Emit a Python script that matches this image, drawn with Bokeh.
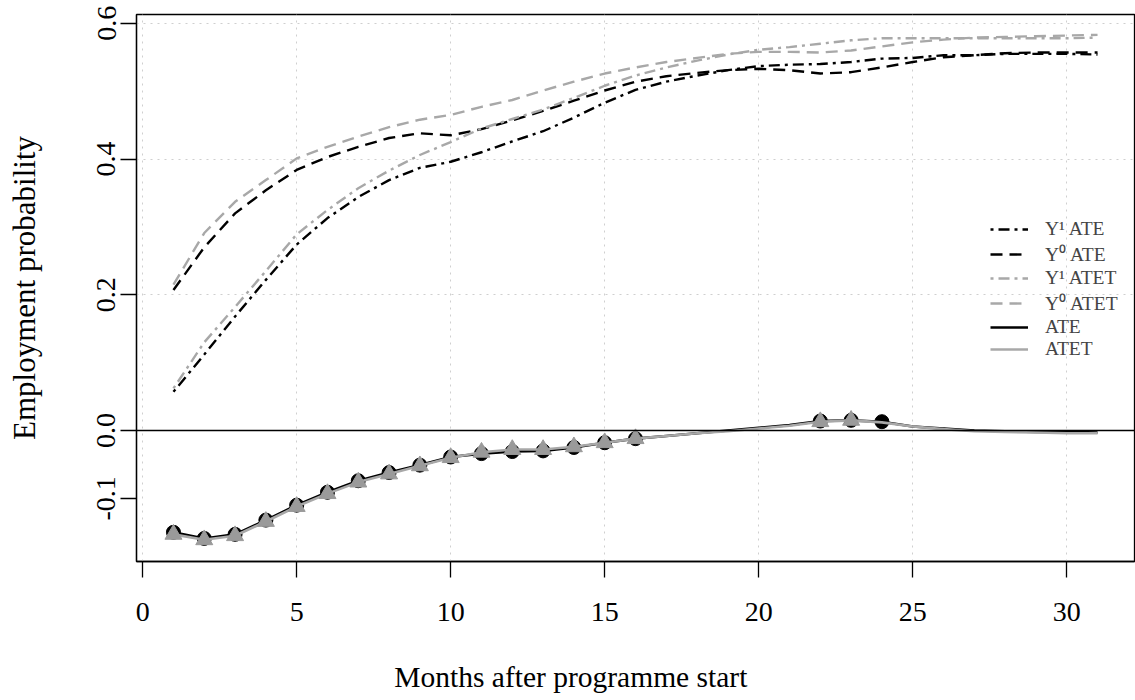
from bokeh.plotting import figure
from bokeh.models import Range1d, FixedTicker, Span, Legend, LegendItem, Label
from bokeh.embed import file_html
from bokeh.resources import INLINE

months = list(range(1, 32))

y1_ate = [0.057, 0.112, 0.168, 0.222, 0.274, 0.313, 0.344, 0.369, 0.387, 0.396,
          0.410, 0.426, 0.441, 0.461, 0.483, 0.502, 0.514, 0.523, 0.531, 0.537,
          0.539, 0.540, 0.543, 0.548, 0.549, 0.553, 0.553, 0.555, 0.555, 0.555, 0.554]
y0_ate = [0.207, 0.270, 0.320, 0.354, 0.384, 0.403, 0.418, 0.431, 0.438, 0.435,
          0.444, 0.457, 0.471, 0.486, 0.501, 0.514, 0.522, 0.527, 0.531, 0.533,
          0.531, 0.526, 0.528, 0.535, 0.543, 0.550, 0.553, 0.556, 0.557, 0.557, 0.557]
y1_atet = [0.062, 0.130, 0.182, 0.235, 0.289, 0.325, 0.357, 0.383, 0.406, 0.425,
           0.445, 0.459, 0.473, 0.490, 0.508, 0.523, 0.535, 0.545, 0.554, 0.561,
           0.565, 0.570, 0.575, 0.578, 0.578, 0.578, 0.578, 0.578, 0.578, 0.578, 0.579]
y0_atet = [0.215, 0.291, 0.337, 0.369, 0.401, 0.418, 0.433, 0.447, 0.458, 0.465,
           0.477, 0.487, 0.501, 0.514, 0.526, 0.535, 0.543, 0.549, 0.555, 0.558,
           0.558, 0.557, 0.560, 0.566, 0.572, 0.576, 0.579, 0.580, 0.581, 0.582, 0.583]
ate = [-0.150, -0.159, -0.153, -0.132, -0.110, -0.091, -0.074, -0.062, -0.051, -0.039,
       -0.034, -0.031, -0.030, -0.025, -0.018, -0.012, -0.008, -0.004, 0.000, 0.004,
       0.008, 0.014, 0.015, 0.013, 0.006, 0.003, 0.000, -0.001, -0.002, -0.002, -0.003]
atet = [-0.153, -0.161, -0.155, -0.134, -0.112, -0.093, -0.076, -0.064, -0.052, -0.040,
        -0.032, -0.028, -0.028, -0.024, -0.018, -0.012, -0.008, -0.004, -0.001, 0.003,
        0.007, 0.013, 0.015, 0.012, 0.006, 0.002, -0.001, -0.002, -0.003, -0.004, -0.004]
# 1 = marker shown (significant month)
ate_sig = [1, 1, 1, 1, 1, 1, 1, 1, 1, 1, 1, 1, 1, 1, 1, 1,
           0, 0, 0, 0, 0, 1, 1, 1, 0, 0, 0, 0, 0, 0, 0]
atet_sig = [1, 1, 1, 1, 1, 1, 1, 1, 1, 1, 1, 1, 1, 1, 1, 1,
            0, 0, 0, 0, 0, 1, 1, 0, 0, 0, 0, 0, 0, 0, 0]

x_ticks = [0, 5, 10, 15, 20, 25, 30]
y_ticks = [-0.1, 0.0, 0.2, 0.4, 0.6]
y_tick_labels = ["-0.1", "0.0", "0.2", "0.4", "0.6"]
y_grid = [0.0, 0.2, 0.4, 0.6]
legend_labels = ["Y\u00b9 ATE", "Y\u2070 ATE", "Y\u00b9 ATET", "Y\u2070 ATET", "ATE", "ATET"]
x_title = "Months after programme start"
y_title = "Employment probability"

FONT = "Liberation Serif"
GRAY = "#a8a8a8"
BLACK = "#000000"
DASH = "12 7"
DOTDASH = "3 5 11 5"

p = figure(width=1135, height=700, output_backend="svg", toolbar_location=None,
           x_range=Range1d(-0.2, 32.2), y_range=Range1d(-0.193, 0.613),
           min_border_left=136, min_border_right=1, min_border_top=14, min_border_bottom=139,
           y_axis_label=y_title)
p.background_fill_color = "white"
p.border_fill_color = "white"
p.outline_line_color = "black"
p.outline_line_width = 1.3

for ax in (p.xaxis[0], p.yaxis[0]):
    ax.axis_line_color = "black"
    ax.axis_line_width = 1.3
    ax.major_tick_line_color = "black"
    ax.major_tick_line_width = 1.3
    ax.major_tick_in = 0
    ax.major_tick_out = 16
    ax.minor_tick_line_color = None
    ax.major_label_text_font = FONT
    ax.major_label_text_font_size = "28px"
    ax.major_label_text_color = "black"
    ax.axis_label_text_font = FONT
    ax.axis_label_text_font_style = "normal"
    ax.axis_label_text_color = "black"

p.yaxis.axis_label_text_font_size = "31px"

p.xaxis.ticker = FixedTicker(ticks=x_ticks)
p.yaxis.ticker = FixedTicker(ticks=y_ticks)
p.yaxis.major_label_overrides = {t: l for t, l in zip(y_ticks, y_tick_labels)}
p.yaxis.major_label_orientation = "vertical"
p.xaxis.major_label_standoff = 25
p.yaxis.major_label_standoff = 5
p.yaxis.axis_label_standoff = 53

# x title: the original centres it on the page (month ~13.9), below the tick labels
p.add_layout(Label(x=13.9, y=-0.363, x_units="data", y_units="data", text=x_title,
                   text_font=FONT, text_font_size="29.5px", text_color="black",
                   text_align="center", text_baseline="middle"), "below")

p.xgrid.ticker = FixedTicker(ticks=x_ticks)
p.ygrid.ticker = FixedTicker(ticks=y_grid)
for g in (p.xgrid[0], p.ygrid[0]):
    g.grid_line_color = "#cfcfcf"
    g.grid_line_dash = "2 5"
    g.grid_line_width = 1

p.add_layout(Span(location=0, dimension="width", line_color="black", line_width=1.6))

r_y1_ate = p.line(months, y1_ate, line_color=BLACK, line_width=2.4, line_dash=DOTDASH)
r_y0_ate = p.line(months, y0_ate, line_color=BLACK, line_width=2.4, line_dash=DASH)
r_y1_atet = p.line(months, y1_atet, line_color=GRAY, line_width=2.4, line_dash=DOTDASH)
r_y0_atet = p.line(months, y0_atet, line_color=GRAY, line_width=2.4, line_dash=DASH)

r_ate = p.line(months, ate, line_color=BLACK, line_width=2.6)
ax_pts = [m for m, s in zip(months, ate_sig) if s]
ay_pts = [v for v, s in zip(ate, ate_sig) if s]
p.scatter(ax_pts, ay_pts, marker="circle", size=14, fill_color=BLACK, line_color=BLACK)

r_atet = p.line(months, atet, line_color=GRAY, line_width=2.6)
tx_pts = [m for m, s in zip(months, atet_sig) if s]
ty_pts = [v for v, s in zip(atet, atet_sig) if s]
p.scatter(tx_pts, ty_pts, marker="triangle", size=17, fill_color="#9a9a9a", line_color="#9a9a9a")

renderers = [r_y1_ate, r_y0_ate, r_y1_atet, r_y0_atet, r_ate, r_atet]
legend = Legend(items=[LegendItem(label=l, renderers=[r]) for l, r in zip(legend_labels, renderers)],
                location=(854, 201), padding=0, margin=0, spacing=0,
                glyph_width=38, glyph_height=18, label_height=20, label_standoff=17,
                label_text_font=FONT, label_text_font_size="19.5px",
                border_line_alpha=0, background_fill_alpha=0)
p.add_layout(legend)

open("out.html", "w").write(file_html(p, INLINE))
